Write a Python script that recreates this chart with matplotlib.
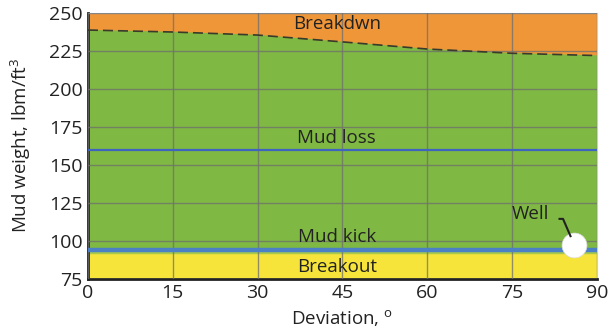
import matplotlib
matplotlib.use("Agg")
import matplotlib.pyplot as plt
import numpy as np

plt.rcParams['font.family'] = ['Open Sans', 'DejaVu Sans']
plt.rcParams['mathtext.default'] = 'regular'

# data
deviation = [0, 15, 30, 45, 60, 75, 90]
breakdown = [238.8, 237.5, 235.5, 231.0, 226.3, 223.5, 222.0]
mud_loss = 160
mud_kick = 94
breakout = 92
well_dev = 86
well_mw = 97.5

fig = plt.figure(figsize=(6.11, 3.34), dpi=100)
ax = fig.add_axes([0.144, 0.165, 0.833, 0.796])

x = np.array(deviation)
ax.fill_between(x, breakdown, 250, color='#EF9639', zorder=1)
ax.fill_between(x, mud_kick, breakdown, color='#7FB842', zorder=1)
ax.fill_between(x, 75, breakout, color='#F6E43B', zorder=1)
ax.fill_between(x, breakout, mud_kick, color='#A7C84A', zorder=1)

ax.plot(x, breakdown, color='#3a3a2a', lw=1.2, ls=(0, (6, 3)), zorder=3)
ax.axhline(mud_loss, color='#3E63C0', lw=1.6, zorder=3)
ax.axhline(mud_kick, color='#4B7FC6', lw=3.2, zorder=3)

ax.set_xlim(0, 90)
ax.set_ylim(75, 250)
ax.set_xticks(deviation)
ax.set_yticks(range(75, 251, 25))
ax.grid(True, color='#6f6f6f', lw=1.0, alpha=0.75, zorder=2)
ax.set_axisbelow(False)
for g in ax.get_xgridlines() + ax.get_ygridlines():
    g.set_zorder(2)

ax.scatter([well_dev], [well_mw], s=320, color='white', edgecolor='#dddddd',
           lw=0.5, zorder=5)
# leader from label to the well marker
ax.plot([83.2, 84.0, 85.4], [114.5, 114.5, 102.5], color='#222222', lw=1.5,
        solid_capstyle='butt', zorder=6)
ax.text(78.3, 117.5, 'Well', ha='center', va='center', fontsize=13.5,
        color='#222222', zorder=6)

ax.text(44, 242.5, 'Breakdwn', ha='center', va='center', fontsize=13.5, color='#222222', zorder=6)
ax.text(44, 167.5, 'Mud loss', ha='center', va='center', fontsize=13.5, color='#222222', zorder=6)
ax.text(44, 102.5, 'Mud kick', ha='center', va='center', fontsize=13.5, color='#222222', zorder=6)
ax.text(44, 82.5, 'Breakout', ha='center', va='center', fontsize=13.5, color='#222222', zorder=6)

ax.set_xlabel(r'Deviation, $^{o}$', fontsize=13.5, color='#222222', labelpad=4)
ax.set_ylabel(r'Mud weight, lbm/ft$^{3}$', fontsize=13.5, color='#222222', labelpad=11)
ax.tick_params(axis='both', length=0, labelsize=14, colors='#222222', pad=4)

ax.spines['left'].set_linewidth(2)
ax.spines['bottom'].set_linewidth(2)
ax.spines['left'].set_color('#222222')
ax.spines['bottom'].set_color('#222222')
ax.spines['top'].set_color('#cccccc')
ax.spines['right'].set_color('#cccccc')

fig.savefig('out.png', dpi=100)
